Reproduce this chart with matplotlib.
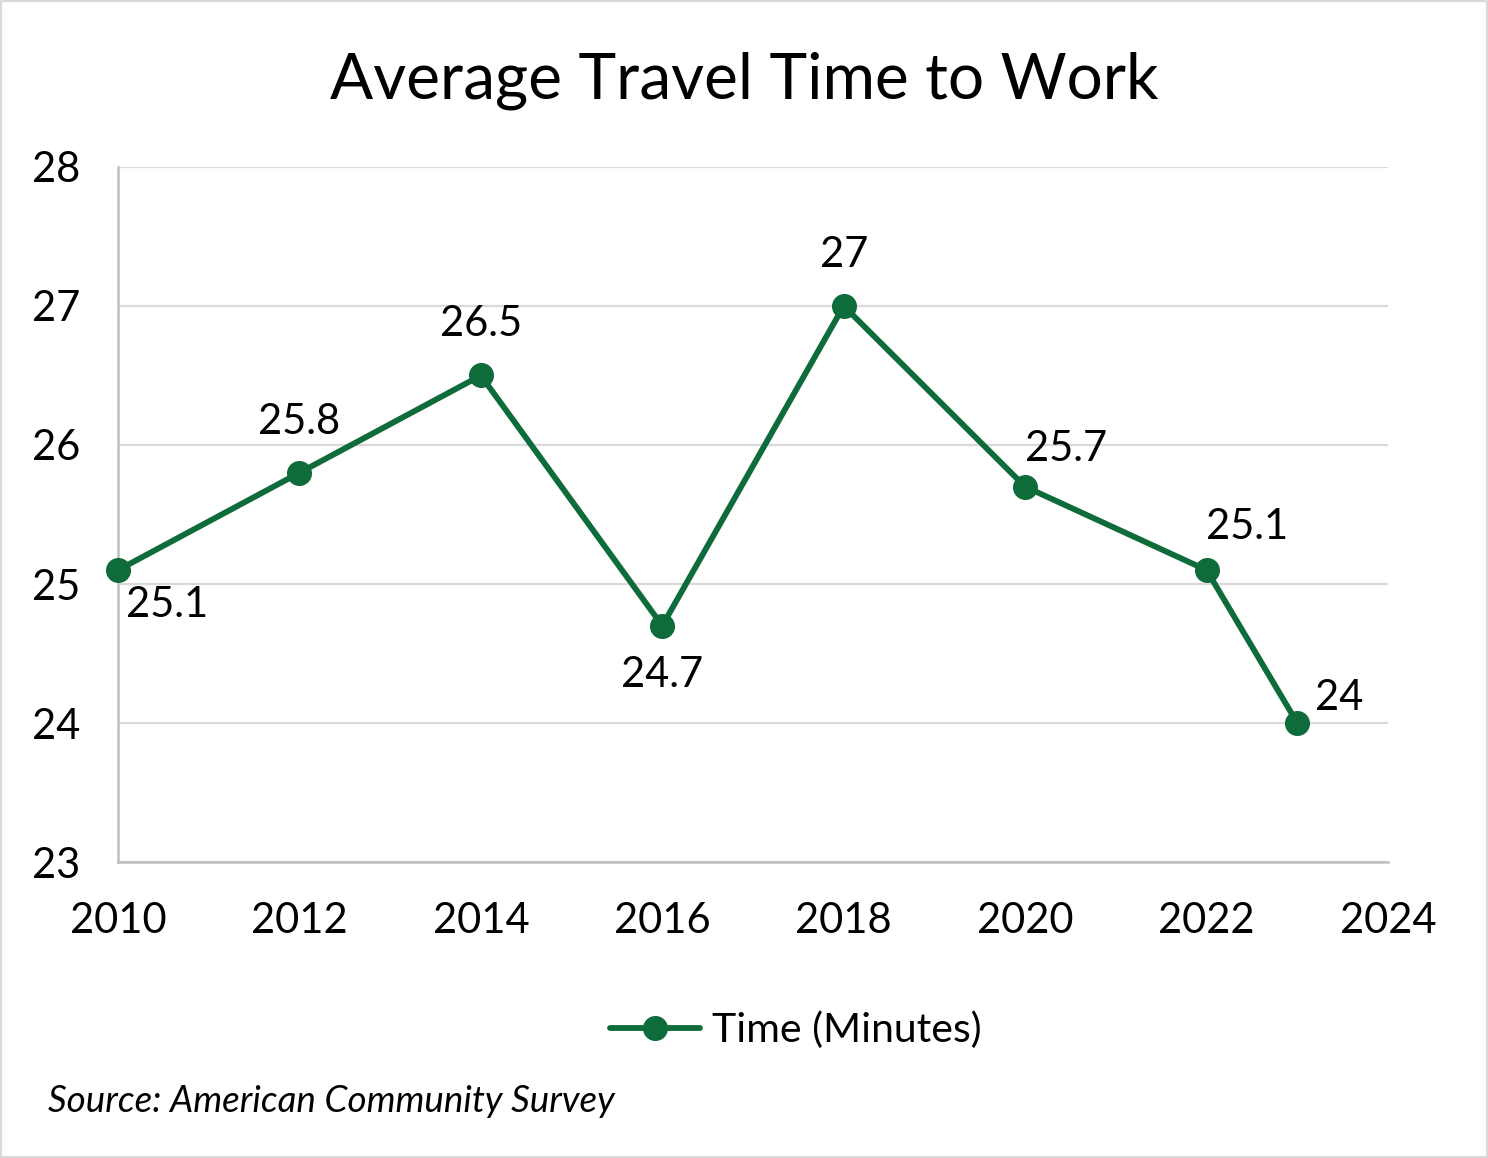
import matplotlib
matplotlib.use("Agg")
import matplotlib.pyplot as plt
from matplotlib.patches import Rectangle

plt.rcParams['font.family'] = ['Lato', 'DejaVu Sans']

years = [2010, 2012, 2014, 2016, 2018, 2020, 2022, 2023]
minutes = [25.1, 25.8, 26.5, 24.7, 27, 25.7, 25.1, 24]
labels = ['25.1', '25.8', '26.5', '24.7', '27', '25.7', '25.1', '24']
# label offsets in pixels (dx, dy)
offsets = [(49, -35), (0, 51), (0, 51), (0, -49), (0, 51), (41, 38), (41, 43), (42, 25)]

green = '#0E6B3A'

fig = plt.figure(figsize=(14.88, 11.58), dpi=100)
ax = fig.add_axes([0.0793, 0.2556, 0.8535, 0.6002])

ax.plot(years, minutes, color=green, lw=4.2, marker='o', ms=17,
        label='Time (Minutes)', solid_capstyle='round', clip_on=False, zorder=3)

for x, y, t, (dx, dy) in zip(years, minutes, labels, offsets):
    ax.annotate(t, (x, y), xytext=(dx * 0.72, dy * 0.72), textcoords='offset points',
                ha='center', va='center', fontsize=30)

ax.set_xlim(2010, 2024)
ax.set_ylim(23, 28)
ax.set_xticks(range(2010, 2025, 2))
ax.set_yticks(range(23, 29))
ax.tick_params(axis='both', length=0, labelsize=30, pad=27)
ax.tick_params(axis='x', pad=28.5)
ax.grid(axis='y', color='#d9d9d9', lw=1.6)
ax.set_axisbelow(True)
for s in ['top', 'right']:
    ax.spines[s].set_visible(False)
for s in ['left', 'bottom']:
    ax.spines[s].set_color('#bfbfbf')
    ax.spines[s].set_linewidth(1.8)

fig.suptitle('Average Travel Time to Work', x=0.5, y=0.930, va='center', fontsize=46)

fig.legend(loc='center', bbox_to_anchor=(0.535, 0.110), frameon=False, fontsize=29.5,
           handlelength=2.2, handletextpad=0.3)

fig.text(0.032, 0.049, 'Source: American Community Survey', style='italic',
         fontsize=26.5, ha='left', va='center')

fig.patches.append(Rectangle((0, 0), 1, 1, transform=fig.transFigure, fill=False,
                             edgecolor='#d9d9d9', lw=3))

fig.savefig('out.png', dpi=100)
